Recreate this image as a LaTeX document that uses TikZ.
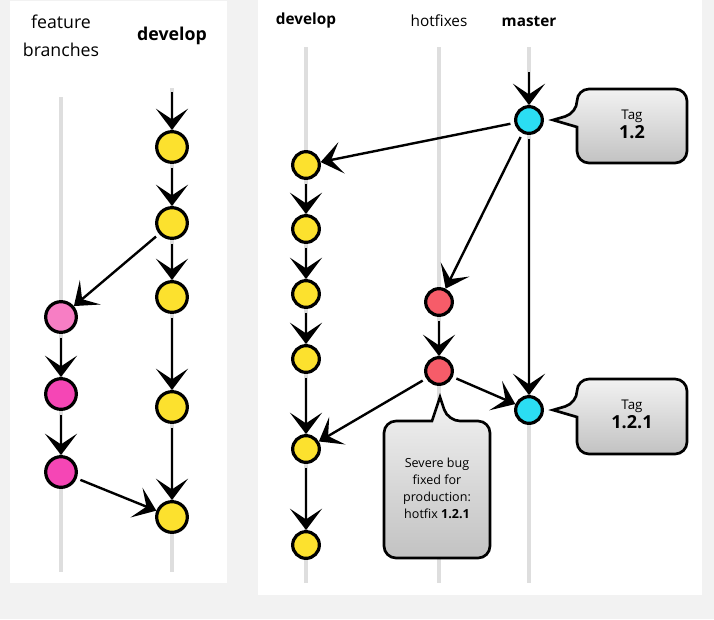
\documentclass[tikz,border=0pt]{standalone}
\usepackage{fontspec}
\setmainfont{Open Sans}
\usetikzlibrary{arrows.meta}
\definecolor{bggray}{HTML}{F2F2F2}
\definecolor{lanegray}{HTML}{DEDEDE}
\definecolor{devyellow}{HTML}{FCE12E}
\definecolor{featpink}{HTML}{F77EC4}
\definecolor{featmagenta}{HTML}{F546B5}
\definecolor{fixred}{HTML}{F65C69}
\definecolor{tagcyan}{HTML}{2BDDF3}
\definecolor{calltop}{HTML}{F2F2F2}
\definecolor{callbot}{HTML}{C2C2C2}
\tikzset{
  lane/.style={lanegray, line width=3.5pt},
  commit/.style={circle, draw=black, line width=2.4pt, minimum size=23pt, inner sep=0pt},
  smallcommit/.style={commit, minimum size=20pt},
  arr/.style={->, >={Stealth[length=16pt,width=24pt,inset=8pt]}, line width=1.8pt, shorten <=3pt},
  callout/.style={draw=black, line width=2pt, top color=calltop, bottom color=callbot},
  biglbl/.style={font=\fontsize{13.3pt}{21pt}\selectfont, align=center},
  lbl/.style={font=\fontsize{11.5pt}{14pt}\selectfont},
}
\begin{document}
\begin{tikzpicture}[x=0.75pt,y=-0.75pt]
  \useasboundingbox (0,0) rectangle (714,619);
  % panels
  \fill[bggray] (0,0) rectangle (714,619);
  \fill[white] (10,1) rectangle (227,583);
  \fill[white] (258,0) rectangle (702,595);

  % left panel: feature branches
  \node[biglbl] (featlbl) at (61,36) {feature\\branches};
  \node[biglbl, font=\fontsize{13.3pt}{21pt}\selectfont\bfseries] (ldevlbl) at (172,36) {develop};
  \draw[lane] (61,97) -- (61,572);
  \draw[lane] (172,88) -- (172,572);
  \foreach \y [count=\i] in {147,223,297,407,517}
    \node[commit, fill=devyellow] (ld\i) at (172,\y) {};
  \node[commit, fill=featpink] (f1) at (61,317) {};
  \node[commit, fill=featmagenta] (f2) at (61,394) {};
  \node[commit, fill=featmagenta] (f3) at (61,472) {};
  \coordinate (ldtop) at (172,88);
  \draw[arr] (ldtop) -- (ld1);
  \foreach \a/\b in {1/2,2/3,3/4,4/5}
    \draw[arr] (ld\a) -- (ld\b);
  \draw[arr] (ld2) -- (f1);
  \draw[arr] (f1) -- (f2);
  \draw[arr] (f2) -- (f3);
  \draw[arr] (f3) -- (ld5);

  % right panel: hotfixes
  \node[lbl, font=\fontsize{11.5pt}{14pt}\selectfont\bfseries] (rdevlbl) at (306,21) {develop};
  \node[lbl] (fixlbl) at (439,21) {hotfixes};
  \node[lbl, font=\fontsize{11.5pt}{14pt}\selectfont\bfseries] (mastlbl) at (529,21) {master};
  \draw[lane] (306,47) -- (306,583);
  \draw[lane] (439,47) -- (439,583);
  \draw[lane] (529,47) -- (529,583);
  \foreach \y [count=\i] in {165,229,294,359,449,545}
    \node[smallcommit, fill=devyellow] (rd\i) at (306,\y) {};
  \node[smallcommit, fill=fixred] (h1) at (439,302) {};
  \node[smallcommit, fill=fixred] (h2) at (439,371) {};
  \node[smallcommit, fill=tagcyan] (m1) at (529,120) {};
  \node[smallcommit, fill=tagcyan] (m2) at (529,410) {};
  \coordinate (mtop) at (529,68);
  \draw[arr] (mtop) -- (m1);
  \draw[arr] (m1) -- (m2);
  \draw[arr] (m1) -- (rd1);
  \draw[arr] (m1) -- (h1);
  \draw[arr] (h1) -- (h2);
  \draw[arr] (h2) -- (rd5);
  \draw[arr] (h2) -- (m2);
  \foreach \a/\b in {1/2,2/3,3/4,4/5,5/6}
    \draw[arr] (rd\a) -- (rd\b);

  % callouts
  \draw[callout] (632,89) [rounded corners=9pt] -- (577,89) -- (577,113) [sharp corners] -- (553,120) -- (577,127)
    [rounded corners=9pt] -- (577,163) -- (687,163) -- (687,89) -- cycle;
  \draw[callout] (632,379) [rounded corners=9pt] -- (577,379) -- (577,403) [sharp corners] -- (553,410) -- (577,417)
    [rounded corners=9pt] -- (577,454) -- (687,454) -- (687,379) -- cycle;
  \draw[callout] (432,421) [rounded corners=9pt] -- (384,421) -- (384,558) -- (490,558) -- (490,421) -- (448,421)
    [sharp corners] -- (440,397) -- cycle;
  \node[align=center] (tag12) at (632,124)
    {\fontsize{10pt}{12pt}\selectfont Tag\\[1pt]\fontsize{13.5pt}{15pt}\selectfont\bfseries 1.2};
  \node[align=center] (tag121) at (632,414)
    {\fontsize{10pt}{12pt}\selectfont Tag\\[1pt]\fontsize{13.5pt}{15pt}\selectfont\bfseries 1.2.1};
  \node[align=center, font=\fontsize{9.4pt}{12.7pt}\selectfont] (bugnote) at (437,488)
    {Severe bug\\fixed for\\production:\\hotfix \textbf{1.2.1}};
\end{tikzpicture}
\end{document}
